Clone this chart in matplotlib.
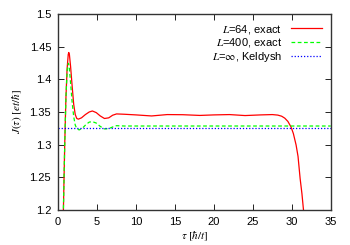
import numpy as np
import matplotlib
matplotlib.use('Agg')
import matplotlib.pyplot as plt

plt.rcParams['font.family'] = ['Liberation Sans', 'DejaVu Sans']
plt.rcParams['mathtext.fontset'] = 'stix'

# ── DATA ──────────────────────────────────────────────────────────
tau_64 = [0.5, 0.68, 0.85, 1.0, 1.15, 1.3, 1.37, 1.45, 1.6, 1.8, 2.0, 2.2, 2.4, 2.6,
          3.0, 3.5, 4.0, 4.4, 4.9, 5.4, 5.95, 6.5, 7.0, 7.5, 8.5, 10, 12, 14, 16,
          18.2, 20, 22, 24, 26, 27.5, 28.2, 28.7, 29.1, 29.5, 29.9, 30.2, 30.55, 30.8,
          31.07, 31.3, 31.5, 31.7]
J_64 = [1.10, 1.20, 1.30, 1.37, 1.415, 1.438, 1.441, 1.438, 1.42, 1.39, 1.362, 1.346, 1.340, 1.339,
        1.341, 1.346, 1.350, 1.3515, 1.349, 1.344, 1.340, 1.341, 1.345, 1.347, 1.3465, 1.3455, 1.3439,
        1.346, 1.3458, 1.3447, 1.3455, 1.346, 1.3445, 1.3455, 1.346, 1.3452, 1.3435, 1.3405, 1.3355,
        1.327, 1.317, 1.2995, 1.282, 1.248, 1.225, 1.20, 1.17]

tau_400 = [0.5, 0.68, 0.85, 1.0, 1.15, 1.25, 1.33, 1.42, 1.6, 1.8, 2.0, 2.2, 2.4, 2.7,
           3.1, 3.6, 4.0, 4.4, 4.9, 5.4, 5.95, 6.5, 7.0, 7.5, 8.5, 10, 15, 20, 25, 30, 35]
J_400 = [1.10, 1.20, 1.30, 1.37, 1.41, 1.422, 1.4245, 1.42, 1.395, 1.365, 1.343, 1.330, 1.3245, 1.3225,
         1.325, 1.331, 1.3345, 1.3352, 1.333, 1.328, 1.324, 1.3245, 1.327, 1.329, 1.3285, 1.3285,
         1.3285, 1.3285, 1.3285, 1.3285, 1.3285]

tau_keldysh = [0, 35]
J_keldysh = [1.3255, 1.3255]

# ── CHART ─────────────────────────────────────────────────────────
fig = plt.figure(figsize=(3.5, 2.45), dpi=100)
ax = fig.add_axes([0.166, 0.143, 0.779, 0.800])

ax.plot(tau_64, J_64, color='#ff0000', linewidth=0.9,
        label='$L$=64, exact')
ax.plot(tau_400, J_400, color='#00ff00', linewidth=0.9,
        linestyle=(0, (3, 2)), label='$L$=400, exact')
ax.plot(tau_keldysh, J_keldysh, color='#0000ff', linewidth=0.9,
        linestyle=(0, (1, 1.5)), label=r'$L$=$\infty$, Keldysh')

ax.set_xlim(0, 35)
ax.set_ylim(1.2, 1.5)
ax.set_xticks(np.arange(0, 36, 5))
ax.set_yticks([1.2, 1.25, 1.3, 1.35, 1.4, 1.45, 1.5])
ax.set_yticklabels(['1.2', '1.25', '1.3', '1.35', '1.4', '1.45', '1.5'])
ax.tick_params(direction='in', top=True, right=True, labelsize=8,
               length=4, width=0.6, pad=5)
for sp in ax.spines.values():
    sp.set_linewidth(1.0)
    sp.set_color('#333333')

ax.set_xlabel(r'$\tau\ [\hbar/t]$', fontsize=8, labelpad=2)
ax.set_ylabel(r'$J(\tau)\ [et/\hbar]$', fontsize=8, labelpad=4)

ax.legend(loc='upper right', fontsize=8, frameon=False, markerfirst=False,
          handlelength=2.8, handletextpad=0.8, labelspacing=0.05,
          borderaxespad=0.4)

plt.savefig('out.png', dpi=100)
plt.close()
